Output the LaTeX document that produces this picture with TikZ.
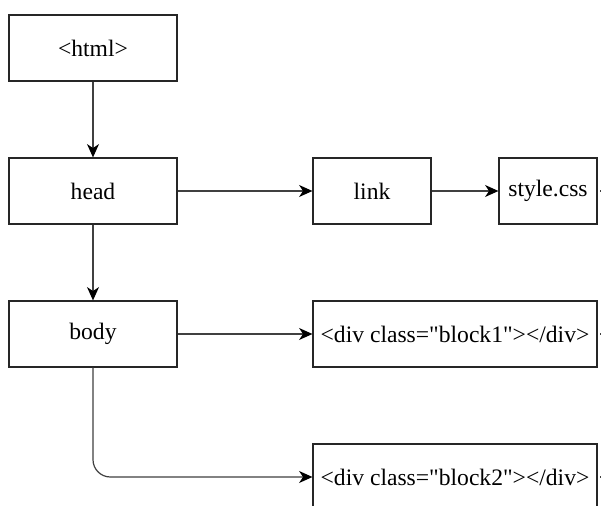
\documentclass[tikz,border=0pt]{standalone}
\usepackage{fontspec}
\setmainfont{Liberation Serif}[Ligatures=TeXOff]
\usetikzlibrary{arrows.meta}
\begin{document}
\begin{tikzpicture}[x=0.75pt, y=-0.75pt,
  box/.style={draw=black!85, line width=0.9pt, fill=white, inner sep=0pt,
    minimum height=49.5pt, font=\fontsize{17.7}{20}\selectfont},
  wide/.style={box, minimum width=126pt},
  conn/.style={draw=black!75, line width=0.9pt,
    -{Stealth[length=10pt, width=9pt, inset=3pt, color=black]}},
  stub/.style={draw=black!75, line width=1pt}]
\useasboundingbox (0,0) rectangle (601,506);
\clip (0,0) rectangle (601,506);
\fill[white] (0,0) rectangle (601,506);

% element tree
\node[wide] (html) at (93,48) {<html>};
\node[wide] (head) at (93,191) {head};
\node[wide] (body) at (93,334) {body};
\node[box, minimum width=88.5pt] (link) at (372,191) {link};
\node[box, minimum width=73.5pt] (css) at (548,191) {style.css};
\node[box, minimum width=213pt] (b1) at (455,334) {<div class="block1"></div>};
\node[box, minimum width=213pt] (b2) at (455,477) {<div class="block2"></div>};

% connectors
\draw[conn] (html) -- (head);
\draw[conn] (head) -- (body);
\draw[conn] (head) -- (link);
\draw[conn] (link) -- (css);
\draw[conn] (body) -- (b1);
\draw[conn, rounded corners=13pt] (body.south) |- (b2.west);

% outgoing line ends at the right margin
\coordinate (s1) at ([xshift=2pt]css.east);
\coordinate (s2) at ([xshift=2pt]b1.east);
\coordinate (s3) at ([xshift=2pt]b2.east);
\draw[stub] (s1) -- ++(4,0);
\draw[stub] (s2) -- ++(4,0);
\draw[stub] (s3) -- ++(4,0);
\end{tikzpicture}
\end{document}
